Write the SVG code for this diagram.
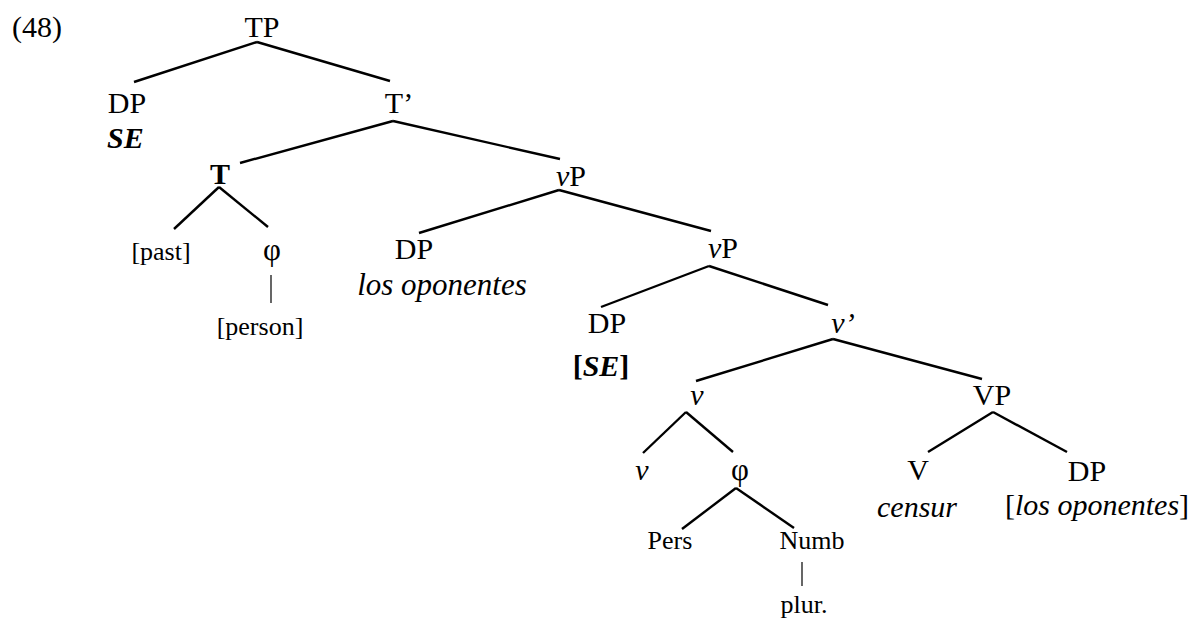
<svg xmlns="http://www.w3.org/2000/svg" width="1200" height="619" viewBox="0 0 1200 619">
<style>
text{font-family:"Liberation Serif","Times New Roman",serif;fill:#000;font-size:30px;text-anchor:middle}
.s{font-size:26px}
.p{font-size:31px}
.i{font-style:italic}
.b{font-weight:bold}
.e{stroke:#000;stroke-width:2.4;fill:none;stroke-linecap:butt}
.t{stroke:#000;stroke-width:1.2;fill:none}
</style>
<rect width="1200" height="619" fill="#fff"/>
<text x="12" y="37" style="text-anchor:start">(48)</text>
<g id="connectors">
<line class="e" x1="257" y1="42" x2="134" y2="82"/>
<line class="e" x1="257" y1="42" x2="390" y2="81"/>
<line class="e" x1="393" y1="121" x2="240" y2="163"/>
<line class="e" x1="393" y1="121" x2="560" y2="159"/>
<line class="e" x1="219" y1="187" x2="174" y2="229"/>
<line class="e" x1="219" y1="187" x2="268" y2="227"/>
<line class="e" x1="559" y1="190" x2="419" y2="233"/>
<line class="e" x1="559" y1="190" x2="711" y2="231"/>
<line class="e" x1="709" y1="266" x2="601" y2="307"/>
<line class="e" x1="709" y1="266" x2="828" y2="305"/>
<line class="e" x1="833" y1="339" x2="696" y2="381"/>
<line class="e" x1="833" y1="339" x2="982" y2="379"/>
<line class="e" x1="686" y1="412" x2="643" y2="453"/>
<line class="e" x1="686" y1="412" x2="733" y2="452"/>
<line class="e" x1="736" y1="488" x2="682" y2="529"/>
<line class="e" x1="736" y1="488" x2="794" y2="528"/>
<line class="e" x1="993" y1="412" x2="928" y2="452"/>
<line class="e" x1="993" y1="412" x2="1067" y2="452"/>
<line class="t" x1="271" y1="275" x2="271" y2="303"/>
<line class="t" x1="802" y1="562" x2="802" y2="586"/>
</g>
<g id="TP"><text x="262" y="37">TP</text></g>
<g id="DP-SE"><text x="127" y="113">DP</text><text x="107" y="148" class="b i" style="text-anchor:start">SE</text></g>
<g id="Tbar"><text x="399" y="113">T’</text></g>
<g id="T"><text x="220" y="184" class="b">T</text></g>
<g id="vP1"><text x="571" y="186"><tspan class="i">v</tspan>P</text></g>
<g id="past"><text x="161" y="260" class="s">[past]</text></g>
<g id="phi1"><text x="272" y="260" class="p">φ</text></g>
<g id="person"><text x="260" y="335" class="s">[person]</text></g>
<g id="DP-los"><text x="414" y="259">DP</text><text x="442" y="295" class="i" style="font-size:31px">los oponentes</text></g>
<g id="vP2"><text x="723" y="258"><tspan class="i">v</tspan>P</text></g>
<g id="DP-SE2"><text x="607" y="333">DP</text><text x="601" y="376" class="b">[<tspan class="i">SE</tspan>]</text></g>
<g id="vbar"><text x="843" y="333" class="i">v’</text></g>
<g id="v"><text x="697" y="405" class="i">v</text></g>
<g id="VP"><text x="992" y="405">VP</text></g>
<g id="v2"><text x="642" y="480" class="i">v</text></g>
<g id="phi2"><text x="740" y="480" class="p">φ</text></g>
<g id="Pers"><text x="670" y="549" class="s">Pers</text></g>
<g id="Numb"><text x="812" y="549" class="s">Numb</text></g>
<g id="plur"><text x="804" y="613" class="s">plur.</text></g>
<g id="V"><text x="918" y="480">V</text><text x="917" y="517" class="i">censur</text></g>
<g id="DP-obj"><text x="1087" y="481">DP</text><text x="1097" y="515">[<tspan class="i">los oponentes</tspan>]</text></g>
</svg>
